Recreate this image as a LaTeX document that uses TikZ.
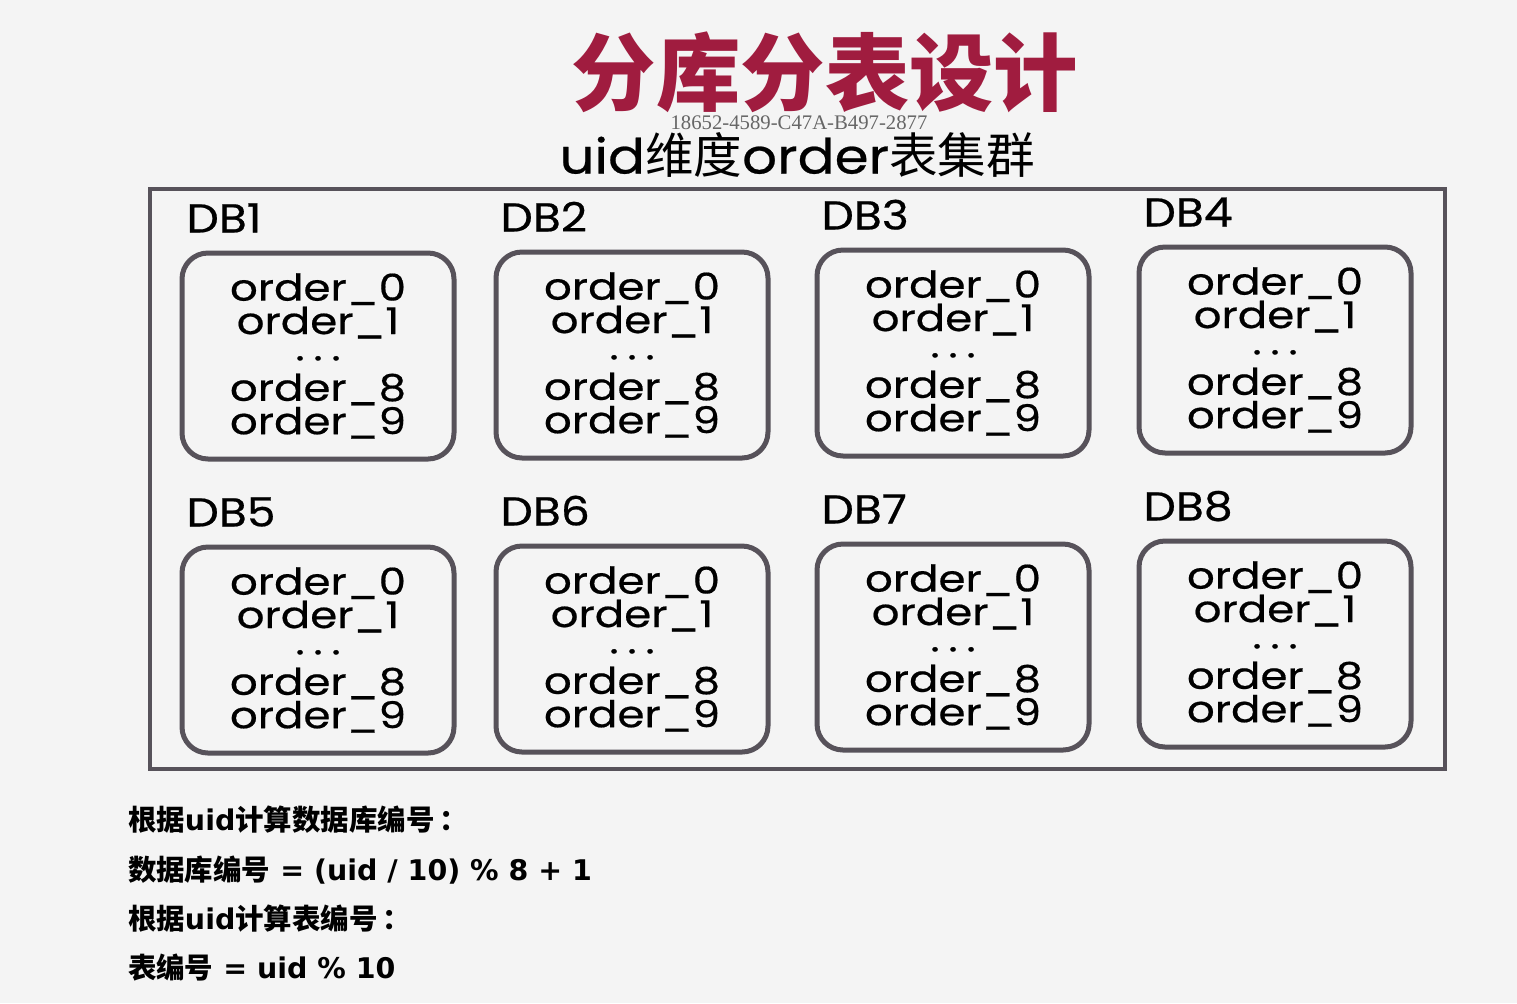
\documentclass[tikz,border=0pt]{standalone}
\usepackage{fontspec}
\usetikzlibrary{positioning}
\setmainfont{Liberation Serif}
\newfontfamily\cjk{Noto Sans CJK SC}
\newfontfamily\gothic[FakeStretch=1.13, FakeBold=0.5]{Poppins}
\newfontfamily\gothicw[FakeStretch=1.18, FakeBold=0.5]{Poppins}
\newfontfamily\verd{DejaVu Sans}
\definecolor{titlered}{HTML}{A01C3F}
\definecolor{framegray}{HTML}{57525A}
\definecolor{paper}{HTML}{F4F4F4}
\newcommand{\tdots}{\raisebox{-1pt}{·\kern2.5pt·\kern2.5pt·}}
\tikzset{
  dbbox/.style={draw=framegray, line width=0.5mm, rounded corners=2.6mm,
    minimum width=27.2mm, minimum height=20.6mm, inner sep=0pt, align=center,
    font={\gothicw\fontsize{10.5}{9.5}\selectfont\lineskiplimit=-20pt}},
  dblabel/.style={anchor=base west, inner sep=0pt, font={\gothic\fontsize{11.5}{14}\selectfont}},
  note/.style={anchor=west, inner sep=0pt, font={\verd\bfseries\fontsize{8.1}{10}\selectfont}},
}
\begin{document}
\begin{tikzpicture}[x=0.1mm, y=-0.1mm, line width=0.6pt]
  % 背景
  \fill[paper] (0,0) rectangle (1517,1003);
  \useasboundingbox (0,0) rectangle (1517,1003);
  % 标题
  \node[text=titlered, font={\cjk\bfseries\fontsize{24}{28}\selectfont}] (title) at (825,72) {分库分表设计};
  \node[text=black!60, font={\fontsize{5.9}{7}\selectfont}, inner sep=0pt] (mark) at (799,123) {18652-4589-C47A-B497-2877};
  \node[font={\fontsize{13.8}{16}\selectfont}, inner sep=0pt] (sub) at (797,155)
    {{\gothic uid}{\cjk 维度}{\gothic order}{\cjk 表集群}};
  % 外框
  \draw[framegray, line width=0.4mm] (150,189) rectangle (1445,769);
  % 八个库
  \foreach \i/\x/\y in {1/318/356, 2/632/355, 3/953/353, 4/1275/350,
                        5/318/650, 6/632/649, 7/953/647, 8/1275/644} {
    \node[dbbox] (db\i) at (\x,\y) {order\_0\\order\_1\\\tdots\\order\_8\\order\_9};
    \node[dblabel] (lb\i) at ([shift={(6,-18)}]db\i.north west) {DB\i};
  }
  % 说明
  \node[note] (n1) at (127,820) {{\cjk 根据}uid{\cjk 计算数据库编号\,：}};
  \node[note] (n2) at (127,870) {{\cjk 数据库编号} = (uid / 10) \% 8 + 1};
  \node[note] (n3) at (127,919) {{\cjk 根据}uid{\cjk 计算表编号\,：}};
  \node[note] (n4) at (127,968) {{\cjk 表编号} = uid \% 10};
\end{tikzpicture}
\end{document}
